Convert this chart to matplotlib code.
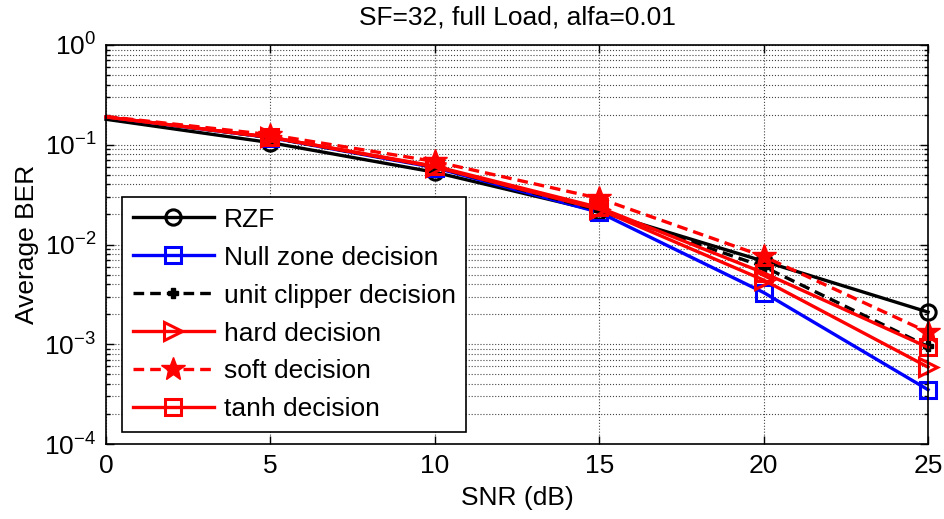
import matplotlib
matplotlib.use("Agg")
import matplotlib.pyplot as plt
from matplotlib.ticker import LogLocator, NullFormatter, FixedLocator

plt.rcParams['font.family'] = ['Liberation Sans', 'DejaVu Sans']
plt.rcParams['mathtext.fontset'] = 'custom'
plt.rcParams['mathtext.rm'] = 'Liberation Sans'
plt.rcParams['mathtext.it'] = 'Liberation Sans'
plt.rcParams['mathtext.bf'] = 'Liberation Sans'

snr = [0, 5, 10, 15, 20, 25]
rzf = [0.180, 0.105, 0.053, 0.0215, 0.0068, 0.0021]
null_zone = [0.190, 0.118, 0.059, 0.021, 0.0033, 0.00035]
unit_clipper = [0.190, 0.118, 0.060, 0.022, 0.0060, 0.00095]
hard = [0.190, 0.119, 0.060, 0.0225, 0.0044, 0.00059]
soft = [0.192, 0.126, 0.068, 0.029, 0.0076, 0.00132]
tanh_d = [0.190, 0.119, 0.061, 0.0235, 0.0052, 0.00093]

labels = ['RZF', 'Null zone decision', 'unit clipper decision',
          'hard decision', 'soft decision', 'tanh decision']
title = 'SF=32, full Load, alfa=0.01'

FS = 19

fig = plt.figure(figsize=(9.44, 5.19), dpi=100)
ax = fig.add_axes([0.1123, 0.1445, 0.8708, 0.7688])

lw = 2.4
ms = 11
me = slice(1, None)
ax.plot(snr, rzf, color='black', lw=lw, marker='o', ms=ms, mfc='none', mew=2.2,
        markevery=me, label=labels[0], clip_on=False)
ax.plot(snr, null_zone, color='blue', lw=lw, marker='s', ms=ms, mfc='none', mew=2.2,
        markevery=me, label=labels[1], clip_on=False)
ax.plot(snr, unit_clipper, color='black', lw=lw, ls=(0, (3.2, 1.8)), marker='P', ms=7,
        markevery=me, label=labels[2], clip_on=False)
ax.plot(snr, hard, color='red', lw=lw, marker='>', ms=ms + 2, mfc='none', mew=2.2,
        markevery=me, label=labels[3], clip_on=False)
ax.plot(snr, soft, color='red', lw=lw, ls=(0, (3.2, 1.8)), marker='*', ms=ms + 7,
        markevery=me, label=labels[4], clip_on=False)
ax.plot(snr, tanh_d, color='red', lw=lw, marker='s', ms=ms, mfc='none', mew=2.2,
        markevery=me, label=labels[5], clip_on=False)

ax.set_yscale('log')
ax.set_xlim(0, 25)
ax.set_ylim(1e-4, 1)
ax.xaxis.set_major_locator(FixedLocator([0, 5, 10, 15, 20, 25]))
ax.yaxis.set_major_locator(LogLocator(base=10, numticks=10))
ax.yaxis.set_minor_locator(LogLocator(base=10, subs=range(2, 10), numticks=20))
ax.yaxis.set_minor_formatter(NullFormatter())

ax.tick_params(axis='both', which='both', direction='in', top=True, right=True,
               labelsize=FS, colors='black', width=1)
ax.tick_params(axis='both', which='major', length=6, pad=7)
ax.tick_params(axis='y', which='minor', length=3)

ax.grid(True, which='major', color='#444444', ls=':', lw=0.8)
ax.grid(True, which='minor', axis='y', color='#444444', ls=':', lw=0.8)
for s in ax.spines.values():
    s.set_linewidth(1.2)
    s.set_color('black')

ax.set_xlabel('SNR (dB)', fontsize=FS, labelpad=6)
ax.set_ylabel('Average BER', fontsize=FS, labelpad=4)
ax.set_title(title, fontsize=FS, pad=15)

leg = ax.legend(loc='lower left', bbox_to_anchor=(0.0195, 0.030), borderaxespad=0,
                fontsize=FS, handlelength=3.1, handletextpad=0.35,
                labelspacing=0.53, borderpad=0.4, fancybox=False,
                edgecolor='black', framealpha=1)
leg.get_frame().set_linewidth(1.2)

fig.savefig('out.png', dpi=100)
